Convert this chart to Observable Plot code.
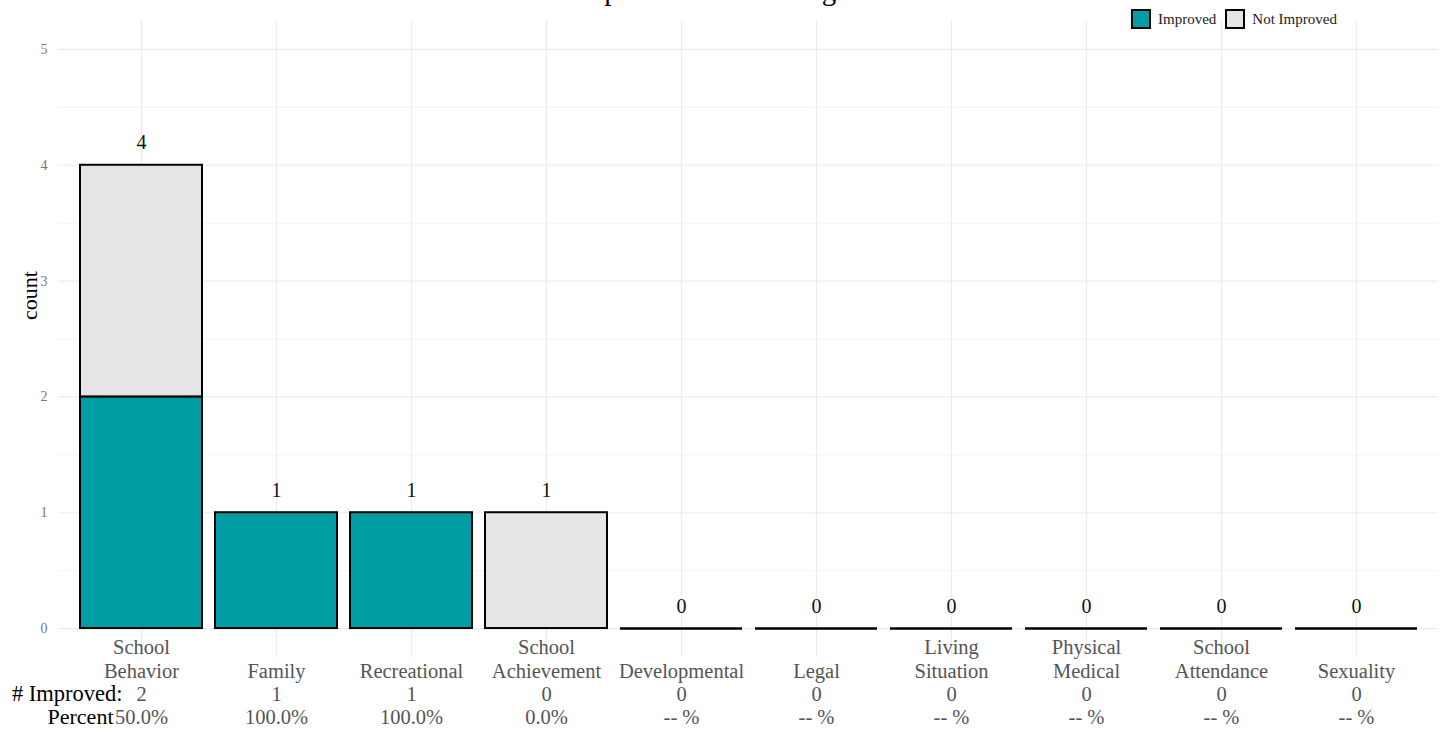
<!DOCTYPE html>
<html>
<head>
<meta charset="utf-8">
<script src="https://cdn.jsdelivr.net/npm/d3@7"></script>
<script src="https://cdn.jsdelivr.net/npm/@observablehq/plot@0.6"></script>
<style>
  html, body { margin: 0; padding: 0; background: #fff; overflow: hidden; }
  #wrap { position: relative; width: 1443px; height: 735px; font-family: "Liberation Serif", serif; }
  #title { position: absolute; left: 572px; top: -24px; font-size: 29px; line-height: 1; color: #000; white-space: nowrap; z-index: 2; }
  #legend { position: absolute; left: 1131px; top: 9px; display: flex; align-items: center; font-size: 15px; color: #222; z-index: 2; }
  .sw { width: 16px; height: 16px; border: 2px solid #000; margin-right: 7px; }
  .item { display: flex; align-items: center; margin-right: 9px; }
</style>
</head>
<body>
<div id="wrap">
  <div id="title">Impact on Functioning</div>
  <div id="legend"></div>
  <div id="chart"></div>
</div>
<script>
const categories = ["School Behavior","Family","Recreational","School Achievement","Developmental","Legal","Living Situation","Physical Medical","School Attendance","Sexuality"];
const categoryLabels = ["School\nBehavior","Family","Recreational","School\nAchievement","Developmental","Legal","Living\nSituation","Physical\nMedical","School\nAttendance","Sexuality"];
const improved = [2,1,1,0,0,0,0,0,0,0];
const notImproved = [2,0,0,1,0,0,0,0,0,0];
const percentLabels = ["50.0%","100.0%","100.0%","0.0%","-- %","-- %","-- %","-- %","-- %","-- %"];
const statusLabels = ["Improved","Not Improved"];
const statusColors = ["#009da5","#e5e5e5"];
const yTicks = [0,1,2,3,4,5];
const yMinorTicks = [0.5,1.5,2.5,3.5,4.5];

const stacked = [];
categories.forEach((c, i) => {
  stacked.push({cat: c, status: statusLabels[0], value: improved[i]});
  stacked.push({cat: c, status: statusLabels[1], value: notImproved[i]});
});
const rows = categories.map((c, i) => ({
  cat: c, label: categoryLabels[i], imp: String(improved[i]),
  pct: percentLabels[i], total: improved[i] + notImproved[i]
}));

// legend
const legend = document.getElementById("legend");
statusLabels.forEach((s, i) => {
  const it = document.createElement("div"); it.className = "item";
  const sw = document.createElement("div"); sw.className = "sw"; sw.style.background = statusColors[i];
  const tx = document.createElement("span"); tx.textContent = s;
  it.appendChild(sw); it.appendChild(tx); legend.appendChild(it);
});

const chart = Plot.plot({
  width: 1443,
  height: 735,
  marginLeft: 58,
  marginRight: 5,
  marginTop: 20,
  marginBottom: 78,
  style: {fontFamily: "Liberation Serif, serif", background: "#fff"},
  x: {domain: categories, paddingInner: 0.1, paddingOuter: 0.15, axis: null},
  y: {domain: [-0.25, 5.25], axis: null},
  color: {domain: statusLabels, range: statusColors},
  marks: [
    Plot.gridY(yMinorTicks, {stroke: "#ebebeb", strokeOpacity: 1, strokeWidth: 0.6}),
    Plot.gridY(yTicks, {stroke: "#ebebeb", strokeOpacity: 1, strokeWidth: 1.2}),
    Plot.gridX(categories, {stroke: "#ebebeb", strokeOpacity: 1, strokeWidth: 1.2}),
    Plot.text(yTicks, {y: d => d, text: d => String(d), frameAnchor: "left", textAnchor: "end", dx: -11, fontSize: 14, fill: "#777"}),
    Plot.barY(stacked, {x: "cat", y: "value", fill: "status", stroke: "#000", strokeWidth: 2, order: statusLabels}),
    Plot.tickY(rows.filter(d => d.total === 0), {x: "cat", y: 0, stroke: "#000", strokeWidth: 2.5}),
    Plot.text(rows, {x: "cat", y: "total", text: d => String(d.total), lineAnchor: "bottom", dy: -16, fontSize: 20, fill: "#111"}),
    Plot.text(rows, {x: "cat", text: "label", frameAnchor: "bottom", lineAnchor: "bottom", lineHeight: 1.13, dy: 20, fontSize: 20.5, fill: "#555"}),
    Plot.text(rows, {x: "cat", text: "imp", frameAnchor: "bottom", lineAnchor: "bottom", dy: 43, fontSize: 20.5, fill: "#555"}),
    Plot.text(rows, {x: "cat", text: "pct", frameAnchor: "bottom", lineAnchor: "bottom", dy: 66, fontSize: 20.5, fill: "#555"}),
    Plot.text(["# Improved:"], {frameAnchor: "bottom-left", text: d => d, textAnchor: "end", lineAnchor: "bottom", dx: 64, dy: 43, fontSize: 22.5, fill: "#000"}),
    Plot.text(["Percent"], {frameAnchor: "bottom-left", text: d => d, textAnchor: "end", lineAnchor: "bottom", dx: 55, dy: 66, fontSize: 22, fill: "#000"}),
    Plot.text(["count"], {frameAnchor: "left", text: d => d, rotate: -90, dx: -29, dy: -19, fontSize: 22, fill: "#000"})
  ]
});
document.getElementById("chart").appendChild(chart);
</script>
</body>
</html>
